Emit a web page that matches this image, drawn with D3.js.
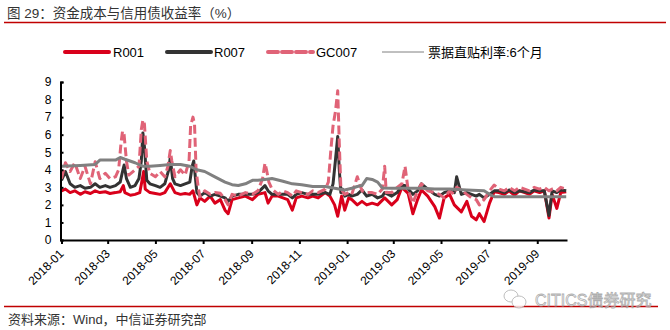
<!DOCTYPE html>
<html><head><meta charset="utf-8">
<script src="https://cdn.jsdelivr.net/npm/d3@7"></script>
<style>
html,body{margin:0;padding:0;background:#fff;}
svg text{font-family:"Liberation Sans",Arial,"Noto Sans CJK SC",sans-serif;}
.cjk{font-family:"Liberation Sans","Noto Sans CJK SC",sans-serif;}
</style></head>
<body>
<svg id="c" width="670" height="330"></svg>
<script>
const title = "图 29：资金成本与信用债收益率（%）";
const source = "资料来源：Wind，中信证券研究部";
const seriesNames = ["R001","R007","GC007","票据直贴利率:6个月"];
const yTicks = [0,1,2,3,4,5,6,7,8,9];

const r001 = [["2018-01-01",2.8],["2018-01-06",2.9],["2018-01-12",2.7],["2018-01-18",2.8],["2018-01-25",2.6],["2018-01-31",2.75],["2018-02-07",2.65],["2018-02-13",2.8],["2018-02-19",2.7],["2018-02-26",2.75],["2018-03-04",2.65],["2018-03-11",2.7],["2018-03-17",2.75],["2018-03-21",3.1],["2018-03-23",2.7],["2018-03-30",2.55],["2018-04-05",2.6],["2018-04-11",2.7],["2018-04-14",3.4],["2018-04-16",3.9],["2018-04-18",2.9],["2018-04-24",2.7],["2018-05-01",2.65],["2018-05-07",2.6],["2018-05-13",2.7],["2018-05-20",3.2],["2018-05-26",2.7],["2018-06-02",2.6],["2018-06-08",2.65],["2018-06-14",2.6],["2018-06-18",2.8],["2018-06-23",2.0],["2018-06-27",2.4],["2018-07-03",2.2],["2018-07-10",2.5],["2018-07-16",2.1],["2018-07-23",2.3],["2018-07-29",1.7],["2018-08-02",1.5],["2018-08-07",2.3],["2018-08-15",2.4],["2018-08-24",2.5],["2018-09-02",2.3],["2018-09-09",2.6],["2018-09-18",2.7],["2018-09-22",2.1],["2018-09-27",2.5],["2018-10-05",2.5],["2018-10-11",2.4],["2018-10-17",2.3],["2018-10-23",1.7],["2018-10-28",2.4],["2018-11-04",2.5],["2018-11-12",2.4],["2018-11-18",2.5],["2018-11-25",2.4],["2018-12-04",2.7],["2018-12-10",2.5],["2018-12-16",2.0],["2018-12-20",1.35],["2018-12-25",2.5],["2018-12-29",1.7],["2019-01-03",2.4],["2019-01-07",2.3],["2019-01-14",2.0],["2019-01-20",2.2],["2019-01-26",2.0],["2019-02-02",2.1],["2019-02-09",2.0],["2019-02-18",2.4],["2019-02-27",2.0],["2019-03-06",2.3],["2019-03-12",3.0],["2019-03-20",2.65],["2019-03-26",1.5],["2019-04-01",2.3],["2019-04-06",2.85],["2019-04-14",2.5],["2019-04-23",1.9],["2019-04-29",1.25],["2019-05-05",2.4],["2019-05-12",2.6],["2019-05-18",2.0],["2019-05-27",1.6],["2019-06-03",2.2],["2019-06-09",1.35],["2019-06-15",1.15],["2019-06-19",1.5],["2019-06-25",1.05],["2019-07-02",2.1],["2019-07-08",2.75],["2019-07-14",2.7],["2019-07-21",2.6],["2019-07-27",2.8],["2019-08-03",2.55],["2019-08-09",2.8],["2019-08-16",2.7],["2019-08-22",2.6],["2019-08-28",2.8],["2019-09-04",2.7],["2019-09-10",2.8],["2019-09-16",1.25],["2019-09-20",2.6],["2019-09-26",1.8],["2019-10-01",2.7],["2019-10-08",2.75]];

const r007 = [["2018-01-01",3.4],["2018-01-06",3.9],["2018-01-12",3.2],["2018-01-18",3.0],["2018-01-25",3.1],["2018-01-31",2.95],["2018-02-07",3.0],["2018-02-13",3.2],["2018-02-19",3.0],["2018-02-26",3.1],["2018-03-04",3.0],["2018-03-11",3.1],["2018-03-17",3.3],["2018-03-20",3.9],["2018-03-22",4.27],["2018-03-25",3.5],["2018-03-30",3.0],["2018-04-05",3.1],["2018-04-10",3.5],["2018-04-13",4.5],["2018-04-15",6.1],["2018-04-17",5.3],["2018-04-20",3.4],["2018-04-24",3.2],["2018-05-01",3.1],["2018-05-07",3.0],["2018-05-13",3.2],["2018-05-18",4.0],["2018-05-20",4.7],["2018-05-23",3.5],["2018-05-26",3.2],["2018-06-02",3.1],["2018-06-08",3.2],["2018-06-14",3.3],["2018-06-17",4.2],["2018-06-19",4.5],["2018-06-23",2.7],["2018-06-27",2.5],["2018-07-03",2.7],["2018-07-10",2.5],["2018-07-16",2.6],["2018-07-23",2.5],["2018-07-29",2.4],["2018-08-02",2.2],["2018-08-07",2.5],["2018-08-15",2.6],["2018-08-24",2.6],["2018-09-02",2.6],["2018-09-09",2.7],["2018-09-18",3.1],["2018-09-22",2.8],["2018-09-27",2.6],["2018-10-05",2.6],["2018-10-11",2.6],["2018-10-17",2.6],["2018-10-23",2.4],["2018-10-28",2.6],["2018-11-04",2.7],["2018-11-12",2.6],["2018-11-18",2.6],["2018-11-25",2.6],["2018-12-04",2.7],["2018-12-10",2.6],["2018-12-14",3.2],["2018-12-17",4.5],["2018-12-20",5.9],["2018-12-22",4.0],["2018-12-24",2.7],["2018-12-26",2.9],["2018-12-29",2.5],["2019-01-03",2.6],["2019-01-07",2.5],["2019-01-14",2.6],["2019-01-20",2.85],["2019-01-26",2.5],["2019-02-02",2.6],["2019-02-09",2.4],["2019-02-15",2.5],["2019-02-18",2.7],["2019-02-27",2.5],["2019-03-06",2.7],["2019-03-12",3.1],["2019-03-16",3.1],["2019-03-20",2.9],["2019-03-26",2.6],["2019-04-01",2.8],["2019-04-06",3.2],["2019-04-14",2.9],["2019-04-23",2.6],["2019-04-29",2.5],["2019-05-05",2.7],["2019-05-12",2.8],["2019-05-18",2.7],["2019-05-21",3.6],["2019-05-27",2.6],["2019-06-03",2.7],["2019-06-09",2.6],["2019-06-15",2.5],["2019-06-19",2.6],["2019-06-25",2.4],["2019-07-02",2.6],["2019-07-08",2.8],["2019-07-14",2.8],["2019-07-21",2.7],["2019-07-27",2.85],["2019-08-03",2.7],["2019-08-09",2.8],["2019-08-16",2.75],["2019-08-22",2.7],["2019-08-28",2.85],["2019-09-04",2.8],["2019-09-10",2.8],["2019-09-16",1.4],["2019-09-20",2.8],["2019-09-26",2.7],["2019-10-01",2.85],["2019-10-08",2.8]];

const gc007 = [["2018-01-01",3.5],["2018-01-06",4.4],["2018-01-12",3.9],["2018-01-18",4.4],["2018-01-25",3.5],["2018-01-31",4.2],["2018-02-07",3.2],["2018-02-13",4.46],["2018-02-19",3.5],["2018-02-26",3.8],["2018-03-04",3.5],["2018-03-11",3.6],["2018-03-15",4.0],["2018-03-18",5.5],["2018-03-20",6.2],["2018-03-22",6.0],["2018-03-25",4.5],["2018-03-28",3.7],["2018-04-05",4.0],["2018-04-10",4.2],["2018-04-13",6.3],["2018-04-15",6.84],["2018-04-17",6.6],["2018-04-20",4.5],["2018-04-24",3.8],["2018-05-01",3.6],["2018-05-07",3.9],["2018-05-13",3.6],["2018-05-17",4.2],["2018-05-20",5.1],["2018-05-22",4.5],["2018-05-26",3.6],["2018-06-02",4.0],["2018-06-08",3.7],["2018-06-13",4.5],["2018-06-15",6.5],["2018-06-18",7.0],["2018-06-20",6.6],["2018-06-22",4.0],["2018-06-25",2.9],["2018-06-27",2.47],["2018-07-03",2.8],["2018-07-10",2.6],["2018-07-16",2.7],["2018-07-23",2.66],["2018-07-29",2.3],["2018-08-02",2.0],["2018-08-07",2.6],["2018-08-15",2.5],["2018-08-24",2.7],["2018-09-02",2.6],["2018-09-09",2.8],["2018-09-15",3.5],["2018-09-18",4.37],["2018-09-20",4.0],["2018-09-23",3.3],["2018-09-27",2.9],["2018-10-05",2.6],["2018-10-11",2.8],["2018-10-17",2.7],["2018-10-23",2.5],["2018-10-28",2.8],["2018-11-04",2.7],["2018-11-12",2.6],["2018-11-18",2.8],["2018-11-25",2.7],["2018-12-04",2.9],["2018-12-08",3.3],["2018-12-11",5.0],["2018-12-14",6.5],["2018-12-17",7.3],["2018-12-20",8.5],["2018-12-22",5.5],["2018-12-24",3.0],["2018-12-26",2.8],["2018-12-29",2.6],["2019-01-03",2.7],["2019-01-07",2.6],["2019-01-14",3.6],["2019-01-20",2.8],["2019-01-26",2.7],["2019-02-02",2.7],["2019-02-09",2.6],["2019-02-15",2.9],["2019-02-18",4.2],["2019-02-20",2.7],["2019-02-27",2.7],["2019-03-06",3.0],["2019-03-12",3.2],["2019-03-16",4.2],["2019-03-20",2.85],["2019-03-26",2.1],["2019-04-01",2.8],["2019-04-06",3.2],["2019-04-14",2.8],["2019-04-23",2.7],["2019-04-29",2.6],["2019-05-05",2.4],["2019-05-12",2.8],["2019-05-18",2.6],["2019-05-21",3.0],["2019-05-27",2.85],["2019-06-03",2.6],["2019-06-09",2.4],["2019-06-15",2.3],["2019-06-19",2.0],["2019-06-25",2.3],["2019-07-02",2.8],["2019-07-08",3.13],["2019-07-14",2.9],["2019-07-21",2.8],["2019-07-27",3.0],["2019-08-03",2.8],["2019-08-09",3.0],["2019-08-16",2.9],["2019-08-22",2.8],["2019-08-28",3.0],["2019-09-04",2.9],["2019-09-10",3.0],["2019-09-16",2.8],["2019-09-20",2.9],["2019-09-26",2.8],["2019-10-01",3.0],["2019-10-08",2.9]];

const billRate = [["2018-01-01",4.2],["2018-01-25",4.25],["2018-02-13",4.3],["2018-02-19",4.55],["2018-03-11",4.55],["2018-03-17",4.7],["2018-03-23",4.6],["2018-04-05",4.4],["2018-04-15",4.2],["2018-04-24",4.2],["2018-05-07",4.25],["2018-05-20",4.3],["2018-06-02",4.3],["2018-06-14",4.2],["2018-06-23",4.0],["2018-07-03",3.9],["2018-07-16",3.6],["2018-07-29",3.3],["2018-08-07",3.15],["2018-08-15",3.1],["2018-08-24",3.2],["2018-09-02",3.4],["2018-09-09",3.4],["2018-09-18",3.45],["2018-09-27",3.5],["2018-10-11",3.35],["2018-10-23",3.2],["2018-11-04",3.15],["2018-11-18",3.05],["2018-12-04",3.05],["2018-12-16",2.95],["2018-12-29",2.85],["2019-01-07",2.95],["2019-01-14",3.05],["2019-01-20",3.1],["2019-01-26",3.5],["2019-02-02",3.45],["2019-02-09",3.3],["2019-02-15",2.96],["2019-02-27",2.95],["2019-03-12",2.95],["2019-04-06",2.95],["2019-04-23",2.9],["2019-05-12",2.9],["2019-06-03",2.85],["2019-06-25",2.8],["2019-07-02",2.6],["2019-07-08",2.47],["2019-08-09",2.47],["2019-09-10",2.47],["2019-10-08",2.47]];

const parse = d3.timeParse("%Y-%m-%d");
const svg = d3.select("#c");

// title and rules
svg.append("text").attr("class","cjk").attr("x",7).attr("y",17.5)
  .attr("font-size",13.5).attr("fill","#333").text(title);
svg.append("line").attr("x1",4).attr("x2",666).attr("y1",22.5).attr("y2",22.5)
  .attr("stroke","#c00000").attr("stroke-width",1.5);
svg.append("line").attr("x1",4).attr("x2",658).attr("y1",306.5).attr("y2",306.5)
  .attr("stroke","#c00000").attr("stroke-width",1.5);
svg.append("text").attr("class","cjk").attr("x",8).attr("y",324)
  .attr("font-size",13).attr("fill","#333").text(source);

// scales
const x = d3.scaleTime().domain([parse("2018-01-01"), parse("2019-10-09")]).range([61.5, 567]);
const y = d3.scaleLinear().domain([0, 9]).range([240, 82]);

const line = d3.line().x(d => x(parse(d[0]))).y(d => y(d[1]));
const series = [
  {data: r001, color: "#d9001b", w: 3, dash: null},
  {data: r007, color: "#333333", w: 3, dash: null},
  {data: gc007, color: "#e06377", w: 3, dash: "9,4"},
  {data: billRate, color: "#808080", w: 3, dash: null}
];
series.forEach(s => {
  svg.append("path").attr("d", line(s.data)).attr("fill","none")
    .attr("stroke", s.color).attr("stroke-width", s.w)
    .attr("stroke-linejoin","round")
    .attr("stroke-dasharray", s.dash);
});

// axes
const yAxis = svg.append("g").attr("transform","translate(60.5,0)")
  .call(d3.axisLeft(y).tickValues(yTicks).tickSize(-3).tickPadding(9).tickFormat(d3.format("d")));
yAxis.select(".domain").attr("stroke","#000").attr("stroke-width",2);
yAxis.selectAll(".tick line").attr("stroke","#000").attr("stroke-width",2);
yAxis.selectAll("text").attr("font-size",12).attr("fill","#000")
  .attr("font-family","'Liberation Sans',Arial,sans-serif");

const xAxis = svg.append("g").attr("transform","translate(0,240)")
  .call(d3.axisBottom(x).ticks(d3.timeMonth.every(2)).tickSize(4).tickSizeOuter(0)
    .tickFormat(d3.timeFormat("%Y-%m")));
xAxis.select(".domain").attr("stroke","#000").attr("stroke-width",2);
xAxis.selectAll(".tick line").attr("stroke","#000").attr("stroke-width",2);
xAxis.selectAll("text").attr("font-size",12).attr("fill","#000")
  .attr("font-family","'Liberation Sans',Arial,sans-serif")
  .attr("x",0).attr("y",0).attr("dy",0)
  .attr("text-anchor","end")
  .attr("transform","translate(2.5,14.5) rotate(-45)");

// legend
const legItems = [
  {x1:65, x2:109, tx:113, color:"#d9001b", w:4, dash:null},
  {x1:167, x2:211, tx:214, color:"#333333", w:4, dash:null},
  {x1:268, x2:313, tx:316, color:"#e06377", w:4, dash:"10,4"},
  {x1:382, x2:424, tx:428, color:"#808080", w:1, dash:null}
];
legItems.forEach((l,i) => {
  svg.append("line").attr("x1",l.x1).attr("x2",l.x2).attr("y1",52).attr("y2",52)
    .attr("stroke",l.color).attr("stroke-width",l.w).attr("stroke-dasharray",l.dash)
    .attr("stroke-linecap", l.w>1 ? "round":"butt");
  svg.append("text").attr("class","cjk").attr("x",l.tx).attr("y",56.5)
    .attr("font-size",13).attr("fill","#000").text(seriesNames[i]);
});

// watermark
const wm = svg.append("g").attr("opacity",0.8);
wm.append("ellipse").attr("cx",511).attr("cy",296).attr("rx",7).attr("ry",6)
  .attr("fill","#fff").attr("stroke","#b0b0b0").attr("stroke-width",1);
wm.append("ellipse").attr("cx",519).attr("cy",302).attr("rx",7).attr("ry",6)
  .attr("fill","#fff").attr("stroke","#b0b0b0").attr("stroke-width",1);
wm.append("text").attr("class","cjk").attr("x",535).attr("y",306)
  .attr("font-size",16).attr("fill","#fff").attr("stroke","#9a9a9a").attr("stroke-width",0.8)
  .text("CITICS债券研究");
</script>
</body></html>
